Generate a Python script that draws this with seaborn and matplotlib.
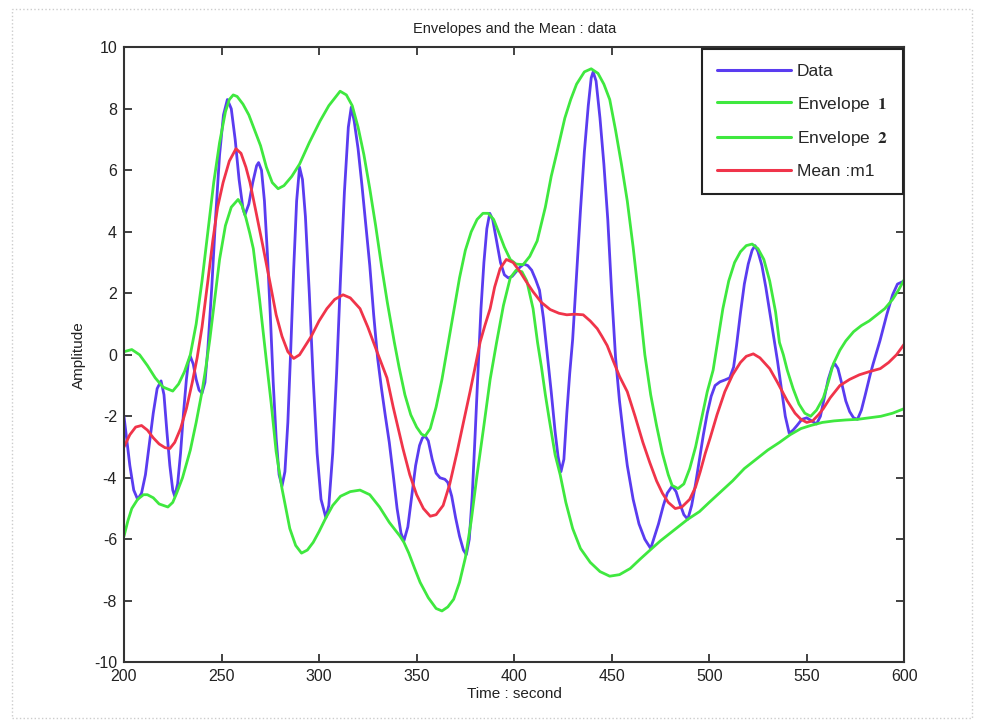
import matplotlib
matplotlib.use('Agg')
import matplotlib.pyplot as plt
import seaborn as sns
import pandas as pd
from matplotlib.patches import Rectangle

# Data (blue)
t_data = [200, 201.5, 203, 205, 207, 209, 211, 213, 215, 217, 219, 220.5, 222, 223.5, 225, 226,
          227.5, 229, 230.5, 232, 233, 234, 235.5, 237, 238.5, 240, 241.5, 243, 245, 247, 249, 251,
          253, 255, 257, 259, 261, 262, 264, 266, 268, 269, 270.5, 272, 273.5, 275, 276.5, 278,
          279.5, 281, 282.5, 284, 285.5, 287, 288.5, 290, 291.5, 293, 295, 297, 299, 301, 303.5,
          305, 307, 309, 311, 313, 315, 316.5, 318, 320, 322, 324, 326, 328, 330, 332, 334, 336,
          338, 340, 342, 343.5, 345.5, 347.5, 349.5, 351.5, 353, 354.5, 356, 358, 360, 362, 364.5,
          366, 368, 370, 372, 374, 375.5, 377, 378.5, 380, 381.5, 383, 384.5, 386, 387.5, 389, 391,
          393, 395, 397, 399, 401, 403, 405, 407, 409, 411, 413, 415, 417, 419, 421, 422.5, 424,
          425.5, 427, 428.5, 430, 432, 434, 436, 438, 439.5, 440.5, 442, 444, 446, 448, 450, 452,
          454, 456, 458, 461, 464, 467, 470, 472, 474, 476.5, 478.5, 481, 483, 485, 487, 489, 491,
          493, 495, 497, 499, 501, 503, 505.5, 508, 510.5, 512.5, 514, 516, 518, 520, 522, 523.5,
          525, 527, 529, 531, 533, 535, 537, 539, 541, 543, 545, 547.5, 550, 552.5, 555, 557, 559,
          561, 563, 564.5, 566, 568, 570, 572, 574, 576, 578, 580, 582.5, 584, 587.5, 591, 594,
          596.5, 600]
v_data = [-2.0, -2.8, -3.6, -4.4, -4.7, -4.5, -3.9, -2.9, -1.9, -1.1, -0.85, -1.3, -2.5, -3.6, -4.4, -4.6,
          -4.2, -3.2, -1.9, -0.8, -0.25, -0.05, -0.3, -0.8, -1.15, -1.25, -0.9, 0.2, 2.2, 4.5, 6.5, 7.8,
          8.3, 8.0, 7.0, 5.7, 4.75, 4.55, 4.9, 5.6, 6.15, 6.25, 6.0, 5.0, 3.3, 1.3, -0.9, -2.7,
          -3.9, -4.27, -3.8, -2.2, 0.2, 2.8, 5.0, 6.1, 5.7, 4.5, 2.0, -0.8, -3.2, -4.7, -5.3,
          -4.9, -3.2, -0.6, 2.5, 5.3, 7.4, 8.05, 7.6, 6.7, 5.5, 4.2, 2.9, 1.3, -0.1, -1.1, -2.0, -2.85,
          -3.9, -5.0, -5.8, -6.05, -5.6, -4.6, -3.6, -2.95, -2.7, -2.65, -2.8, -3.4, -3.85, -4.0, -4.05,
          -4.15, -4.6, -5.3, -5.9, -6.35, -6.5, -6.0, -4.6, -2.6, -0.5, 1.5, 3.0, 4.1, 4.6, 4.4, 3.7,
          3.0, 2.6, 2.5, 2.55, 2.7, 2.85, 2.95, 2.9, 2.75, 2.45, 2.1, 1.2, 0.0, -1.2, -2.5, -3.3, -3.8,
          -3.4, -1.9, -0.6, 0.5, 2.6, 4.7, 6.6, 8.1, 9.0, 9.2, 8.9, 7.7, 6.2, 4.4, 2.0, -0.1,
          -1.5, -2.6, -3.6, -4.7, -5.5, -6.0, -6.3, -5.9, -5.5, -4.9, -4.5, -4.27, -4.45, -4.85, -5.2, -5.35, -4.9,
          -4.2, -3.4, -2.6, -1.9, -1.35, -1.0, -0.88, -0.82, -0.75, -0.4, 0.3, 1.35, 2.3, 2.95, 3.4, 3.55,
          3.35, 2.9, 2.2, 1.4, 0.6, -0.2, -1.1, -2.0, -2.55, -2.45, -2.3, -2.1, -2.05, -2.15, -2.25, -2.0, -1.4,
          -0.8, -0.4, -0.3, -0.45, -0.95, -1.5, -1.85, -2.05, -2.1, -1.8, -1.3, -0.65, -0.3, 0.45, 1.3, 1.95,
          2.3, 2.4]

# Envelope 1 (upper, green)
t_env1 = [200, 204, 208, 212, 216, 220, 225, 228, 231, 234, 237, 240, 243, 246, 249, 252, 254, 256,
          258, 261, 264, 267, 270, 273, 276, 279, 282, 286, 290, 295, 300.5, 305, 310.8, 314, 317,
          320, 323, 326, 329, 332, 335, 338.6, 341, 344, 347, 350, 352.5, 354.4, 357, 360, 363, 366,
          369, 372, 375, 378, 381, 384, 386.7, 389.5, 392, 395, 398, 401, 404.6, 408, 411.8, 416,
          419, 422, 426, 429, 432, 436, 439.5, 443, 446, 449, 452, 455, 458, 461, 464, 467, 470,
          473, 476, 479, 481, 484, 487, 490, 493, 496, 499, 502, 504, 507, 510, 513, 516, 519, 522,
          525, 528, 531, 534, 536, 538, 540, 543, 546, 549, 552, 555, 558.5, 561, 563.6, 567, 570,
          574, 578, 582, 586, 590, 594, 597, 600]
v_env1 = [0.1, 0.17, 0.0, -0.35, -0.75, -1.05, -1.18, -0.95, -0.55, 0.0, 1.0, 2.4, 4.0, 5.6, 6.9, 7.9, 8.3, 8.45,
          8.4, 8.15, 7.8, 7.3, 6.8, 6.1, 5.6, 5.4, 5.5, 5.8, 6.2, 6.9, 7.6, 8.1, 8.57, 8.45, 8.1,
          7.4, 6.5, 5.4, 4.2, 2.9, 1.7, 0.4, -0.4, -1.3, -1.95, -2.35, -2.58, -2.64, -2.4, -1.7, -0.8, 0.3,
          1.4, 2.5, 3.4, 4.0, 4.4, 4.6, 4.6, 4.4, 4.0, 3.5, 3.1, 2.95, 2.93, 3.2, 3.7, 4.8,
          5.8, 6.6, 7.7, 8.3, 8.8, 9.2, 9.3, 9.15, 8.8, 8.3, 7.3, 6.2, 5.0, 3.5, 1.8, 0.0, -1.3,
          -2.3, -3.2, -3.9, -4.25, -4.35, -4.2, -3.7, -3.0, -2.1, -1.2, -0.5, 0.3, 1.5, 2.4, 3.0, 3.35, 3.55, 3.6,
          3.45, 3.1, 2.4, 1.4, 0.4, 0.0, -0.5, -1.1, -1.6, -1.9, -2.0, -1.8, -1.4, -0.9, -0.3, 0.15, 0.45,
          0.75, 0.95, 1.1, 1.3, 1.5, 1.8, 2.1, 2.45]

# Envelope 2 (lower, green)
t_env2 = [200, 202, 204, 207, 210, 212, 215, 218, 222.5, 225, 227, 230, 234, 237, 240, 242, 244, 246.5,
          249, 252, 255, 258.5, 260.5, 262.5, 264.5, 266.3, 269.5, 273, 275.5, 278, 281, 285, 288,
          291, 294, 297, 300, 303.5, 307, 311, 316, 321, 326, 331, 336, 341.5, 343.5, 346, 349,
          351.8, 356, 360, 363, 366, 369, 372, 375, 378, 381, 384.5, 387.7, 391, 394.5, 398, 401,
          404, 406.5, 409.7, 412, 414, 416, 418, 421, 423.6, 426.5, 430, 434, 439, 444, 449, 454,
          459.5, 464.5, 469.7, 475, 481, 485, 489, 495, 500, 506, 512, 518, 524, 530, 536, 541.5,
          547, 552, 558, 564, 570, 576, 582, 588, 594, 600]
v_env2 = [-5.9, -5.4, -5.0, -4.7, -4.55, -4.55, -4.65, -4.85, -4.95, -4.8, -4.5, -4.0, -3.1, -2.2, -1.2, -0.4, 0.5, 1.8,
          3.1, 4.2, 4.8, 5.05, 4.85, 4.45, 3.95, 3.45, 1.8, -0.2, -1.6, -3.15, -4.35, -5.65, -6.2,
          -6.45, -6.35, -6.1, -5.75, -5.3, -4.9, -4.6, -4.45, -4.4, -4.55, -4.95, -5.45, -5.9, -6.1, -6.45, -6.95,
          -7.4, -7.9, -8.25, -8.33, -8.2, -7.95, -7.4, -6.6, -5.4, -3.9, -2.3, -0.8, 0.4, 1.6, 2.5, 2.75,
          2.7, 2.4, 1.5, 0.4, -0.4, -1.3, -2.1, -3.25, -3.9, -4.8, -5.65, -6.3, -6.75, -7.05, -7.2, -7.15,
          -6.95, -6.65, -6.35, -6.05, -5.75, -5.55, -5.35, -5.1, -4.8, -4.45, -4.1, -3.7, -3.4, -3.1, -2.85, -2.6,
          -2.4, -2.3, -2.2, -2.15, -2.12, -2.1, -2.05, -2.0, -1.9, -1.75]

# Mean m1 (red)
t_mean = [200, 203, 206, 209, 212, 215, 218, 221, 223.5, 226, 229, 232, 235, 237.5, 240, 243, 245.5, 248,
          250.8, 254, 257.4, 260, 262.5, 264.6, 267.5, 271, 275, 278, 281, 284, 287, 290, 293, 296,
          300, 304, 308, 312.3, 316, 321, 325, 329.7, 334.8, 338, 343, 346.5, 350, 353.5, 357, 360,
          363.6, 367, 370.8, 374, 377.4, 380, 382.6, 385, 387.7, 390, 392.8, 396, 399.5, 403, 406,
          409.7, 414, 418.5, 423, 427, 431, 435.4, 439, 442.6, 445, 447.7, 450.8, 454, 458, 462, 466,
          469.5, 473, 476, 479, 482.6, 486, 490, 493, 495.4, 498, 500.5, 504, 508, 512, 516, 519,
          522.6, 526, 531, 535, 540, 544, 547, 550, 553, 556, 558.5, 562, 567, 572, 577, 582, 587.7,
          592, 596, 600]
v_mean = [-3.0, -2.6, -2.35, -2.3, -2.45, -2.7, -2.9, -3.02, -3.05, -2.85, -2.4, -1.75, -0.9, -0.1, 0.9, 2.4, 3.7, 4.8,
          5.6, 6.3, 6.7, 6.55, 6.1, 5.6, 4.7, 3.6, 2.3, 1.3, 0.6, 0.1, -0.12, 0.0, 0.3, 0.6,
          1.1, 1.5, 1.8, 1.95, 1.85, 1.5, 0.9, 0.1, -0.75, -1.7, -3.05, -3.9, -4.55, -5.0, -5.25, -5.2,
          -4.9, -4.2, -3.15, -2.2, -1.2, -0.4, 0.42, 0.95, 1.5, 2.2, 2.8, 3.1, 3.0, 2.7, 2.4,
          2.05, 1.7, 1.47, 1.35, 1.3, 1.32, 1.3, 1.1, 0.85, 0.6, 0.3, -0.2, -0.7, -1.2, -2.0, -2.85,
          -3.5, -4.1, -4.5, -4.8, -5.0, -4.95, -4.7, -4.3, -3.8, -3.2, -2.7, -1.95, -1.2, -0.65, -0.25, -0.05,
          0.03, -0.1, -0.45, -0.9, -1.5, -1.9, -2.1, -2.2, -2.15, -1.95, -1.75, -1.4, -1.0, -0.8, -0.65, -0.55, -0.45,
          -0.25, 0.0, 0.35]

x_ticks = list(range(200, 601, 50))
y_ticks = list(range(-10, 11, 2))

sns.set_style('ticks')
plt.rcParams['font.family'] = ['Liberation Sans', 'DejaVu Sans']
plt.rcParams['mathtext.fontset'] = 'stix'
plt.rcParams['axes.unicode_minus'] = False

fig = plt.figure(figsize=(9.84, 7.27), dpi=100)
ax = fig.add_axes([0.126, 0.089, 0.793, 0.846])

blue = '#5a3cf0'
green = '#3fe83f'
red = '#f0344a'
lw = 2.0

sns.lineplot(x=t_data, y=v_data, ax=ax, color=blue, lw=lw, estimator=None, sort=False, label='Data')
sns.lineplot(x=t_env1, y=v_env1, ax=ax, color=green, lw=lw, estimator=None, sort=False,
             label=r'Envelope $\;\mathbf{1}\quad$')
sns.lineplot(x=t_env2, y=v_env2, ax=ax, color=green, lw=lw, estimator=None, sort=False,
             label=r'Envelope $\;\mathbf{2}\quad$')
sns.lineplot(x=t_mean, y=v_mean, ax=ax, color=red, lw=lw, estimator=None, sort=False, label='Mean :m1')

ax.set_xlim(200, 600)
ax.set_ylim(-10, 10)
ax.set_xticks(x_ticks)
ax.set_yticks(y_ticks)
ax.tick_params(direction='in', top=True, right=True, length=6, width=1.2, labelsize=11.5,
               colors='#222222', pad=5)
for s in ax.spines.values():
    s.set_linewidth(1.5)
    s.set_color('#333333')

ax.set_title('Envelopes and the Mean : data', fontsize=10.5, pad=10, color='#222222')
ax.set_xlabel('Time : second', fontsize=11, labelpad=2, color='#222222')
ax.set_ylabel('Amplitude', fontsize=11, labelpad=6, color='#222222')

leg = ax.legend(loc='upper right', bbox_to_anchor=(1.0, 1.0), borderaxespad=0.1,
                fancybox=False, framealpha=1, edgecolor='#222222', fontsize=12.5,
                handlelength=4.3, handletextpad=0.3, labelspacing=0.9, borderpad=0.85)
leg.get_frame().set_linewidth(1.5)
for line in leg.get_lines():
    line.set_linewidth(2.2)

fig.add_artist(Rectangle((0.012, 0.012), 0.976, 0.976, transform=fig.transFigure, fill=False,
                         edgecolor='#cccccc', lw=1, ls=':'))

fig.savefig('out.png', dpi=100)
